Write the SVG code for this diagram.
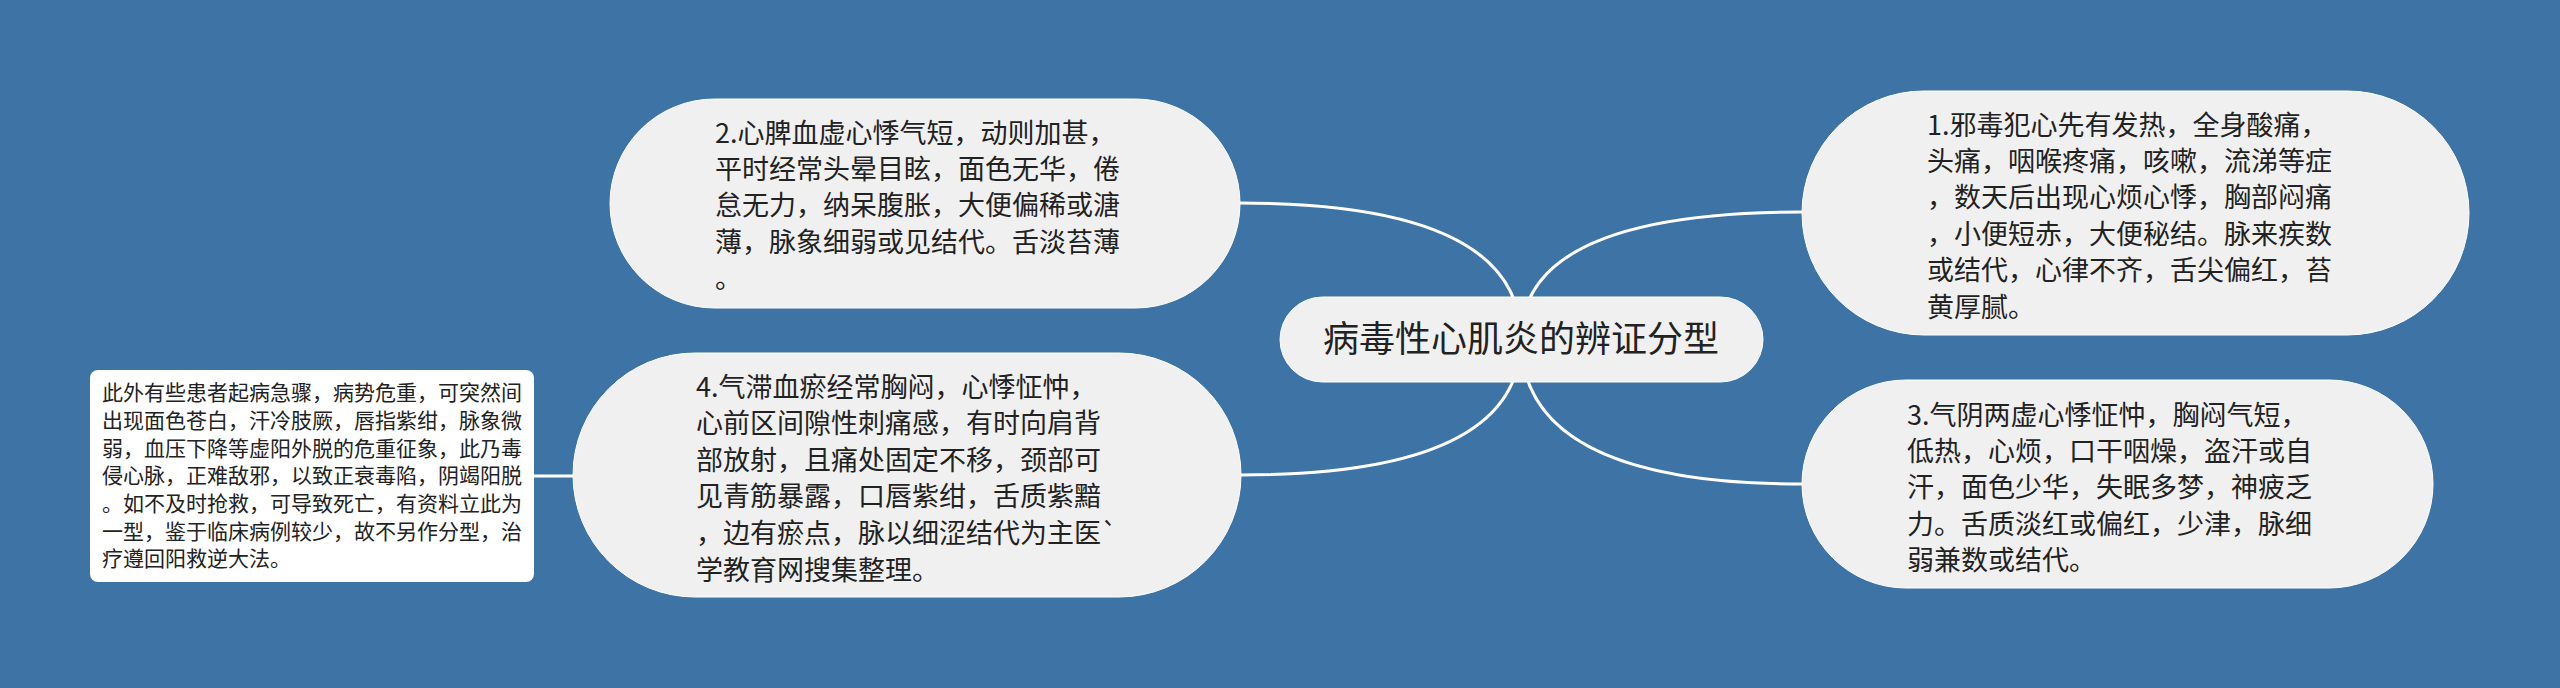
<svg xmlns="http://www.w3.org/2000/svg" width="2560" height="688" viewBox="0 0 2560 688">
  <style>
    .bg { fill: #3e73a6; }
    .pill { fill: #f0f0f0; stroke: #ffffff; stroke-width: 1; }
    .box { fill: #ffffff; }
    .conn { fill: none; stroke: #ffffff; stroke-width: 3; }
    .t { font-family: "Noto Sans CJK SC", "Microsoft YaHei", sans-serif; fill: #222222; }
    .t27 { font-size: 27px; }
    .t21 { font-size: 21px; }
    .t36 { font-size: 36px; }
  </style>
  <rect class="bg" x="0" y="0" width="2560" height="688"/>

  <g id="connectors">
    <path class="conn" d="M1521,339 Q1521,212 1802,212"/>
    <path class="conn" d="M1521,339 Q1521,484 1802,484"/>
    <path class="conn" d="M1521,339 Q1521,203 1240,203"/>
    <path class="conn" d="M1521,339 Q1521,475 1241,475"/>
    <path class="conn" d="M534,476 L574,476"/>
  </g>

  <g id="root">
    <rect class="pill" x="1280" y="297" width="483" height="85" rx="42.5" ry="42.5"/>
    <text class="t t36" x="1521" y="352" text-anchor="middle">病毒性心肌炎的辨证分型</text>
  </g>

  <g id="node1">
    <rect class="pill" x="1802" y="91" width="667" height="244" rx="122" ry="122"/>
    <text class="t t27">
      <tspan x="1927" y="134.5">1.邪毒犯心先有发热，全身酸痛，</tspan>
      <tspan x="1927" y="170.9">头痛，咽喉疼痛，咳嗽，流涕等症</tspan>
      <tspan x="1927" y="207.3">，数天后出现心烦心悸，胸部闷痛</tspan>
      <tspan x="1927" y="243.7">，小便短赤，大便秘结。脉来疾数</tspan>
      <tspan x="1927" y="280.1">或结代，心律不齐，舌尖偏红，苔</tspan>
      <tspan x="1927" y="316.5">黄厚腻。</tspan>
    </text>
  </g>

  <g id="node2">
    <rect class="pill" x="610" y="99" width="630" height="209" rx="104.5" ry="104.5"/>
    <text class="t t27">
      <tspan x="715" y="142.5">2.心脾血虚心悸气短，动则加甚，</tspan>
      <tspan x="715" y="178.9">平时经常头晕目眩，面色无华，倦</tspan>
      <tspan x="715" y="215.3">怠无力，纳呆腹胀，大便偏稀或溏</tspan>
      <tspan x="715" y="251.7">薄，脉象细弱或见结代。舌淡苔薄</tspan>
      <tspan x="715" y="288.1">。</tspan>
    </text>
  </g>

  <g id="node3">
    <rect class="pill" x="1802" y="380" width="631" height="208" rx="104" ry="104"/>
    <text class="t t27">
      <tspan x="1907" y="424.5">3.气阴两虚心悸怔忡，胸闷气短，</tspan>
      <tspan x="1907" y="460.9">低热，心烦，口干咽燥，盗汗或自</tspan>
      <tspan x="1907" y="497.3">汗，面色少华，失眠多梦，神疲乏</tspan>
      <tspan x="1907" y="533.7">力。舌质淡红或偏红，少津，脉细</tspan>
      <tspan x="1907" y="570.1">弱兼数或结代。</tspan>
    </text>
  </g>

  <g id="node4">
    <rect class="pill" x="573" y="353" width="668" height="244" rx="122" ry="122"/>
    <text class="t t27">
      <tspan x="696" y="396.5">4.气滞血瘀经常胸闷，心悸怔忡，</tspan>
      <tspan x="696" y="433.1">心前区间隙性刺痛感，有时向肩背</tspan>
      <tspan x="696" y="469.7">部放射，且痛处固定不移，颈部可</tspan>
      <tspan x="696" y="506.3">见青筋暴露，口唇紫绀，舌质紫黯</tspan>
      <tspan x="696" y="542.9">，边有瘀点，脉以细涩结代为主医`</tspan>
      <tspan x="696" y="579.5">学教育网搜集整理。</tspan>
    </text>
  </g>

  <g id="node5">
    <rect class="box" x="90" y="370" width="444" height="212" rx="8" ry="8"/>
    <text class="t t21">
      <tspan x="102" y="400.4">此外有些患者起病急骤，病势危重，可突然间</tspan>
      <tspan x="102" y="428.1">出现面色苍白，汗冷肢厥，唇指紫绀，脉象微</tspan>
      <tspan x="102" y="455.8">弱，血压下降等虚阳外脱的危重征象，此乃毒</tspan>
      <tspan x="102" y="483.4">侵心脉，正难敌邪，以致正衰毒陷，阴竭阳脱</tspan>
      <tspan x="102" y="511.1">。如不及时抢救，可导致死亡，有资料立此为</tspan>
      <tspan x="102" y="538.8">一型，鉴于临床病例较少，故不另作分型，治</tspan>
      <tspan x="102" y="566.4">疗遵回阳救逆大法。</tspan>
    </text>
  </g>
</svg>
